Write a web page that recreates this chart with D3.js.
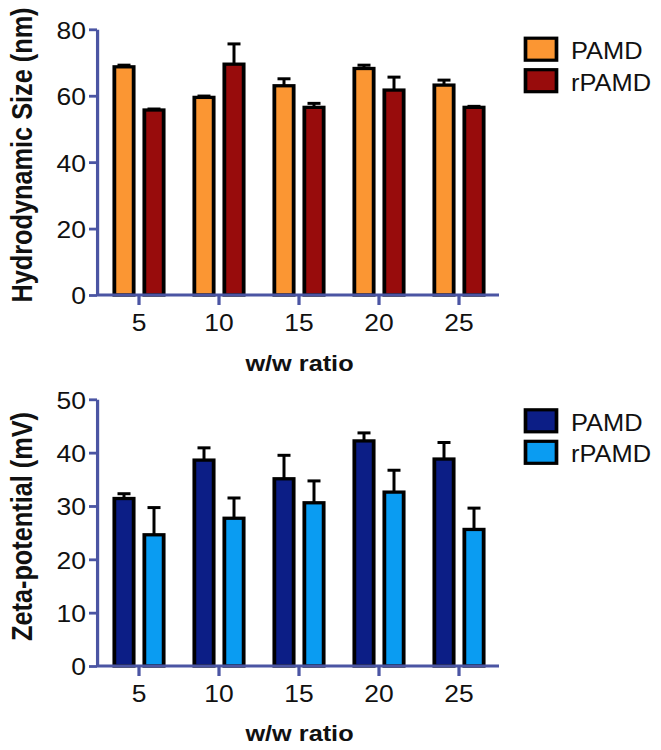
<!DOCTYPE html>
<html>
<head>
<meta charset="utf-8">
<script src="https://cdn.jsdelivr.net/npm/d3@7"></script>
<style>
  html, body { margin: 0; padding: 0; background: #fff; }
  svg { display: block; }
  text { font-family: "Liberation Sans", Arial, Helvetica, sans-serif; fill: #111; }
</style>
</head>
<body>
<svg id="chart" width="661" height="750"></svg>
<script>
// ---------- data ----------
const ratios = ["5", "10", "15", "20", "25"];
const seriesNames = ["PAMD", "rPAMD"];

const sizePAMD = [68.7, 59.5, 63.0, 68.2, 63.2];
const sizePAMDErr = [0.5, 0.4, 2.1, 1.0, 1.5];
const sizeRPAMD = [55.7, 69.5, 56.5, 61.7, 56.5];
const sizeRPAMDErr = [0.3, 6.1, 1.2, 3.9, 0.3];

const zetaPAMD = [31.4, 38.6, 35.1, 42.2, 38.8];
const zetaPAMDErr = [0.9, 2.3, 4.4, 1.5, 3.1];
const zetaRPAMD = [24.6, 27.7, 30.6, 32.6, 25.6];
const zetaRPAMDErr = [5.1, 3.8, 4.1, 4.1, 4.0];

const sizeTicks = [0, 20, 40, 60, 80];
const zetaTicks = [0, 10, 20, 30, 40, 50];

const sizeColors = ["#fb9633", "#980c0c"];
const zetaColors = ["#0c1e86", "#0a9cf2"];

// ---------- layout ----------
const S = 1.15; // horizontal stretch of the original figure
const svg = d3.select("#chart");
const root = svg.append("g").attr("transform", `scale(${S},1)`);
const AXIS = "#4b55a3";

function panel(cfg) {
  const g = root.append("g");
  const x = d3.scaleBand().domain(ratios).range([99 / S, 499 / S]);
  const y = d3.scaleLinear().domain(cfg.domain).range([cfg.bottom, cfg.top]);

  const groups = [
    { vals: cfg.a, errs: cfg.aErr, color: cfg.colors[0], off: -15 },
    { vals: cfg.b, errs: cfg.bErr, color: cfg.colors[1], off: 15 }
  ];
  const bw = 19.3;
  groups.forEach(s => {
    const data = ratios.map((r, i) => ({ r, v: s.vals[i], e: s.errs[i] }));
    const cx = d => x(d.r) + x.bandwidth() / 2 + s.off / S;
    g.selectAll(null).data(data).enter().append("line")
      .attr("x1", cx).attr("x2", cx)
      .attr("y1", d => y(d.v)).attr("y2", d => y(d.v + d.e))
      .attr("stroke", "#000").attr("stroke-width", 2.6);
    g.selectAll(null).data(data).enter().append("line")
      .attr("x1", d => cx(d) - 6.5 / S).attr("x2", d => cx(d) + 6.5 / S)
      .attr("y1", d => y(d.v + d.e)).attr("y2", d => y(d.v + d.e))
      .attr("stroke", "#000").attr("stroke-width", 3);
    g.selectAll(null).data(data).enter().append("rect")
      .attr("x", d => cx(d) - bw / 2 / S)
      .attr("width", bw / S)
      .attr("y", d => y(d.v))
      .attr("height", d => y(0) - y(d.v))
      .attr("fill", s.color)
      .attr("stroke", "#000").attr("stroke-width", 3.3);
  });

  const yAxis = g.append("g").attr("transform", `translate(${97 / S},0)`)
    .call(d3.axisLeft(y).tickValues(cfg.ticks).tickSize(8 / S).tickSizeOuter(0).tickPadding(3 / S));
  const xAxis = g.append("g").attr("transform", `translate(0,${cfg.bottom})`)
    .call(d3.axisBottom(x).tickSize(10).tickSizeOuter(0).tickPadding(9.5));
  xAxis.select(".domain").attr("d", `M${97 / S},0H${499 / S}`);
  [yAxis, xAxis].forEach(a => {
    a.selectAll(".domain, .tick line").attr("stroke", AXIS).attr("stroke-width", 2.8);
    a.selectAll(".tick text").attr("font-size", 23).attr("fill", "#111")
      .style("font-family", '"Liberation Sans", Arial, sans-serif');
  });
  yAxis.selectAll(".tick text").attr("dy", "0.39em");
  xAxis.selectAll(".tick text").attr("dy", "0.71em");

  g.append("text")
    .attr("transform", `translate(${32 / S},${cfg.titleY}) rotate(-90)`)
    .attr("text-anchor", "middle").attr("font-weight", "bold").attr("font-size", 25.3)
    .text(cfg.yTitle);
  g.append("text")
    .attr("x", 299.5 / S).attr("y", cfg.xTitleY)
    .attr("text-anchor", "middle").attr("font-weight", "bold").attr("font-size", 22)
    .text("w/w ratio");

  seriesNames.forEach((n, i) => {
    g.append("rect")
      .attr("x", 525.5 / S).attr("width", 31 / S)
      .attr("y", cfg.legendY + i * 31.5).attr("height", 22)
      .attr("fill", cfg.colors[i]).attr("stroke", "#000").attr("stroke-width", 3.2);
    g.append("text")
      .attr("transform", `translate(${571 / S},${cfg.legendY + i * 31.5 + 21}) scale(0.91,1)`)
      .attr("font-size", 24.3).text(n);
  });
}

panel({
  a: sizePAMD, aErr: sizePAMDErr, b: sizeRPAMD, bErr: sizeRPAMDErr,
  colors: sizeColors, domain: [0, 80], ticks: sizeTicks,
  top: 29.3, bottom: 295, titleY: 155, xTitleY: 371.5,
  yTitle: "Hydrodynamic Size (nm)", legendY: 38.2
});
panel({
  a: zetaPAMD, aErr: zetaPAMDErr, b: zetaRPAMD, bErr: zetaRPAMDErr,
  colors: zetaColors, domain: [0, 50], ticks: zetaTicks,
  top: 399.3, bottom: 666, titleY: 526.5, xTitleY: 741.5,
  yTitle: "Zeta-potential (mV)", legendY: 409.8
});
</script>
</body>
</html>
